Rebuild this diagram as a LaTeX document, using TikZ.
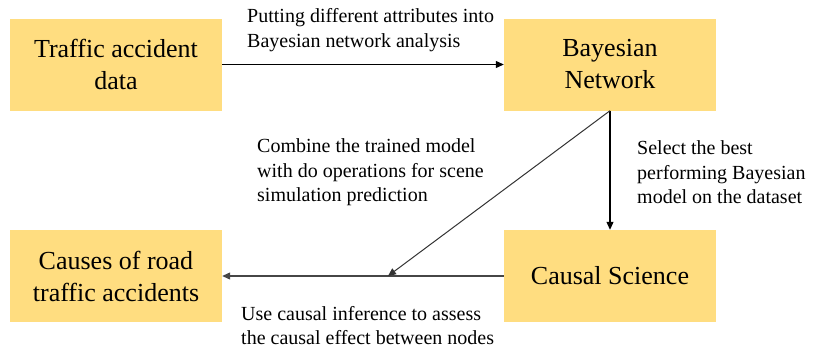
\documentclass[tikz,border=0pt]{standalone}
\usepackage{fontspec}
\setmainfont{Liberation Serif}
\usetikzlibrary{arrows.meta}
\definecolor{boxfill}{RGB}{255,221,128}
\definecolor{linegray}{RGB}{70,70,70}
\tikzset{
  box/.style={fill=boxfill, draw=none, minimum width=212pt, minimum height=92pt, inner sep=0pt, align=center, font=\fontsize{26}{32}\selectfont},
  lbl/.style={anchor=west, inner sep=0pt, align=left, font=\fontsize{20}{24.5}\selectfont},
  arr/.style={-{Triangle[width=7pt,length=8pt]}, line width=1.1pt},
}
\begin{document}
\begin{tikzpicture}[x=1pt,y=1pt]
\useasboundingbox (0,0) rectangle (813,-351);
\node[box] (tad) at (116,-64.5) {Traffic accident\\data};
\node[box] (bn) at (610,-64.5) {Bayesian\\Network};
\node[box] (cr) at (116,-276) {Causes of road\\traffic accidents};
\node[box] (cs) at (610,-276) {Causal Science};
\coordinate (mid) at (388,-276);
\draw[arr, black] (tad.east) -- (bn.west);
\draw[arr, black] (bn.south) -- (cs.north);
\draw[arr, linegray] (cs.west) -- (cr.east);
\draw[arr, black!80, line width=1pt] (bn.south) -- (mid);
\node[lbl] (l1) at (247,-30) {Putting different attributes into\\Bayesian network analysis};
\node[lbl] (l2) at (257,-172.5) {Combine the trained model\\with do operations for scene\\simulation prediction};
\node[lbl] (l3) at (637,-172.5) {Select the best\\performing Bayesian\\model on the dataset};
\node[lbl] (l4) at (241,-325.5) {Use causal inference to assess\\the causal effect between nodes};
\end{tikzpicture}
\end{document}
